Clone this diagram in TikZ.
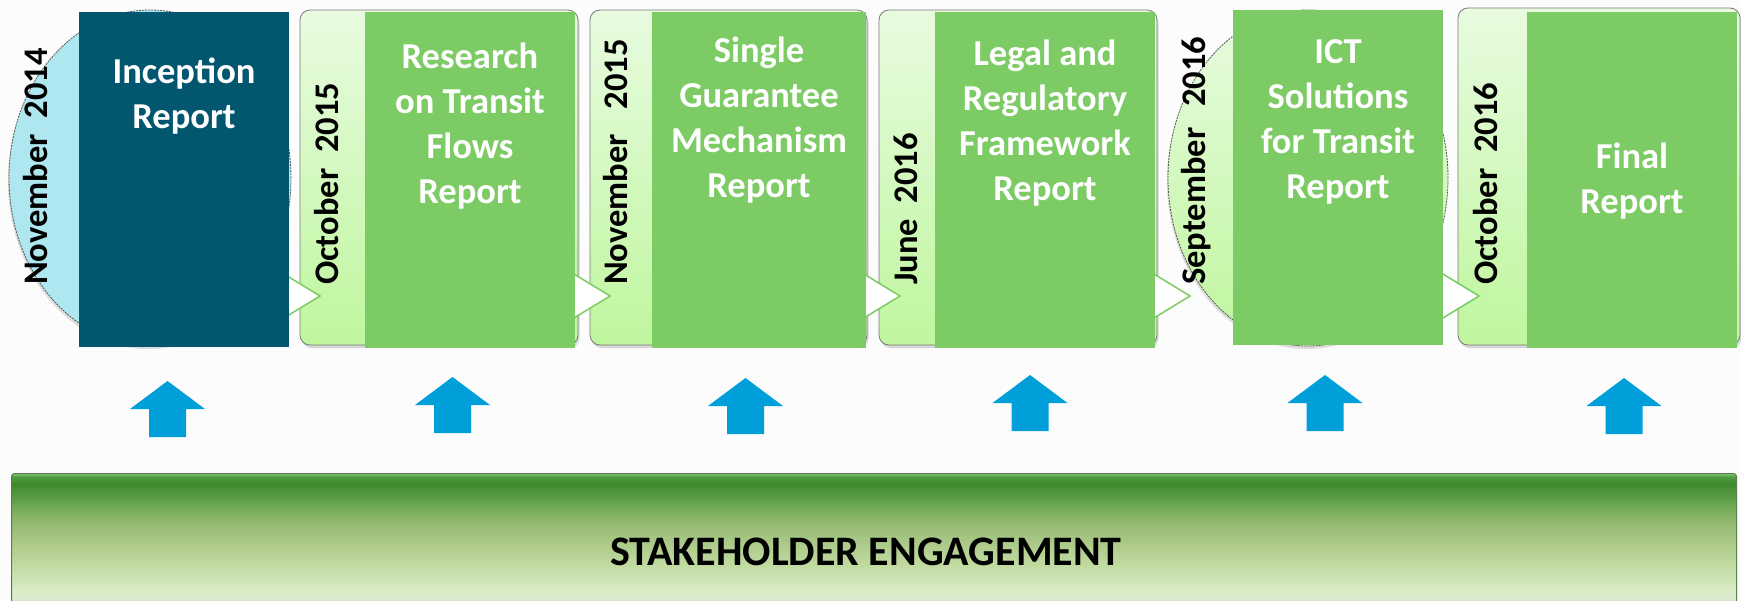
\documentclass[tikz,border=0pt]{standalone}
\usepackage{fontspec}
\setmainfont{Carlito}
\usetikzlibrary{shadows,shapes.geometric}
\definecolor{bgc}{HTML}{FCFCFC}
\definecolor{darkteal}{HTML}{02566E}
\definecolor{lightcyan}{HTML}{AEE7F0}
\definecolor{boxgreen}{HTML}{7CCB64}
\definecolor{striptop}{HTML}{E8FBE0}
\definecolor{stripbot}{HTML}{BFF69E}
\definecolor{arrowblue}{HTML}{009FDA}
\definecolor{cardedge}{HTML}{7A7A7A}
\definecolor{baredge}{HTML}{5A7D4A}
\definecolor{barA}{HTML}{86C977}
\definecolor{barB}{HTML}{4F9C40}
\definecolor{barC}{HTML}{3E8A2E}
\definecolor{barD}{HTML}{5F9F4A}
\definecolor{barE}{HTML}{8DB66A}
\definecolor{barF}{HTML}{A7C684}
\definecolor{barG}{HTML}{C0DAA0}
\definecolor{barH}{HTML}{D8ECC6}
\definecolor{barI}{HTML}{DCECD0}
\definecolor{barJ}{HTML}{C9CFC4}
\pgfdeclareverticalshading{barshade}{100bp}{color(0bp)=(barJ); color(25bp)=(barJ); color(27bp)=(barI); color(30bp)=(barH); color(40bp)=(barG); color(50bp)=(barF); color(57.5bp)=(barE); color(65bp)=(barD); color(71bp)=(barC); color(73.75bp)=(barB); color(75bp)=(barA); color(100bp)=(barA)}
\tikzset{
  outercard/.style={draw=cardedge, line width=0.8pt, rounded corners=10pt, top color=striptop, bottom color=stripbot, inner sep=0pt, outer sep=0pt, drop shadow={shadow xshift=1.5pt, shadow yshift=-3pt, opacity=0.3}},
  ellcard/.style={ellipse, draw=cardedge!70!black, dash pattern=on 2pt off 1pt, line width=0.8pt, inner sep=0pt, outer sep=0pt, drop shadow={shadow xshift=-1pt, shadow yshift=-3pt, opacity=0.25}},
  innerbox/.style={fill=boxgreen, inner sep=0pt, outer sep=0pt},
  chev/.style={fill=white, draw=boxgreen, line width=1.5pt, line join=miter},
  rtext/.style={text=white, font=\fontsize{36.5}{45}\selectfont\bfseries, anchor=base, inner sep=0pt},
  dtext/.style={text=black, font=\fontsize{34.5}{40}\selectfont\bfseries, rotate=90, anchor=base west, inner sep=0pt},
  barbox/.style={shading=barshade, draw=baredge, line width=1pt, rounded corners=3pt, inner sep=0pt, anchor=north west},
  uparr/.pic={\fill[arrowblue] (0,0) -- (37.5,28) -- (18.5,28) -- (18.5,56) -- (-18.5,56) -- (-18.5,28) -- (-37.5,28) -- cycle;}
}
\begin{document}
\begin{tikzpicture}[x=1pt,y=-1pt]
\useasboundingbox (0,0) rectangle (1741,600);
\fill[bgc] (0,0) rectangle (1741,600);

% back shapes
\node[ellcard, fill=lightcyan, minimum width=282, minimum height=336] (e1) at (150,178) {};
\node[outercard, minimum width=278, minimum height=335] (o2) at (439,177.5) {};
\node[outercard, minimum width=277, minimum height=335] (o3) at (728.5,177.5) {};
\node[outercard, minimum width=278, minimum height=335] (o4) at (1018,177.5) {};
\node[ellcard, top color=striptop, bottom color=stripbot, minimum width=280, minimum height=336] (e5) at (1308,178) {};
\node[outercard, minimum width=282, minimum height=337] (o6) at (1599,176.5) {};

% chevrons
\coordinate (c2) at (320,296);
\coordinate (c3) at (610,296);
\coordinate (c4) at (900,296);
\coordinate (c5) at (1190,296);
\coordinate (c6) at (1479,296);
\foreach \c in {c2,c3,c4,c5,c6}
  \filldraw[chev] (\c) -- ++(-41,-25) -- ++(0,50) -- cycle;

% front boxes
\node[fill=darkteal, inner sep=0pt, minimum width=210, minimum height=335] (b1) at (184,179.5) {};
\node[innerbox, minimum width=210, minimum height=336] (b2) at (470,180) {};
\node[innerbox, minimum width=214, minimum height=336] (b3) at (759,180) {};
\node[innerbox, minimum width=220, minimum height=336] (b4) at (1045,180) {};
\node[innerbox, minimum width=210, minimum height=335] (b5) at (1338,177.5) {};
\node[innerbox, minimum width=210, minimum height=336] (b6) at (1632,180) {};

% titles
\node[rtext] (t1) at (184,83) {\begin{tabular}[t]{@{}c@{}}Inception\\Report\end{tabular}};
\node[rtext] (t2) at (470,68) {\begin{tabular}[t]{@{}c@{}}Research\\on Transit\\Flows\\Report\end{tabular}};
\node[rtext] (t3) at (759,62) {\begin{tabular}[t]{@{}c@{}}Single\\Guarantee\\Mechanism\\Report\end{tabular}};
\node[rtext] (t4) at (1045,65) {\begin{tabular}[t]{@{}c@{}}Legal and\\Regulatory\\Framework\\Report\end{tabular}};
\node[rtext] (t5) at (1338,63) {\begin{tabular}[t]{@{}c@{}}ICT\\Solutions\\for Transit\\Report\end{tabular}};
\node[rtext] (t6) at (1632,168) {\begin{tabular}[t]{@{}c@{}}Final\\Report\end{tabular}};

% dates
\node[dtext] (d1) at (47,285) {November\hspace{16pt}2014};
\node[dtext] (d2) at (338,285) {October\hspace{16pt}2015};
\node[dtext] (d3) at (627,285) {November\hspace{25pt}2015};
\node[dtext] (d4) at (917,285) {June\hspace{16pt}2016};
\node[dtext] (d5) at (1205,285) {September\hspace{21pt}2016};
\node[dtext] (d6) at (1497,285) {October\hspace{16pt}2016};

% arrows
\pic (a1) at (167.5,381) {uparr};
\pic (a2) at (452.5,377) {uparr};
\pic (a3) at (745.5,378) {uparr};
\pic (a4) at (1030,375) {uparr};
\pic (a5) at (1325,375) {uparr};
\pic (a6) at (1624,378) {uparr};

% stakeholder bar
\node[barbox, minimum width=1725, minimum height=130] (bar) at (11,473) {};
\node[font=\fontsize{42}{50}\selectfont\bfseries, anchor=base, inner sep=0pt] (stake) at (866,565) {STAKEHOLDER ENGAGEMENT};
\end{tikzpicture}
\end{document}
